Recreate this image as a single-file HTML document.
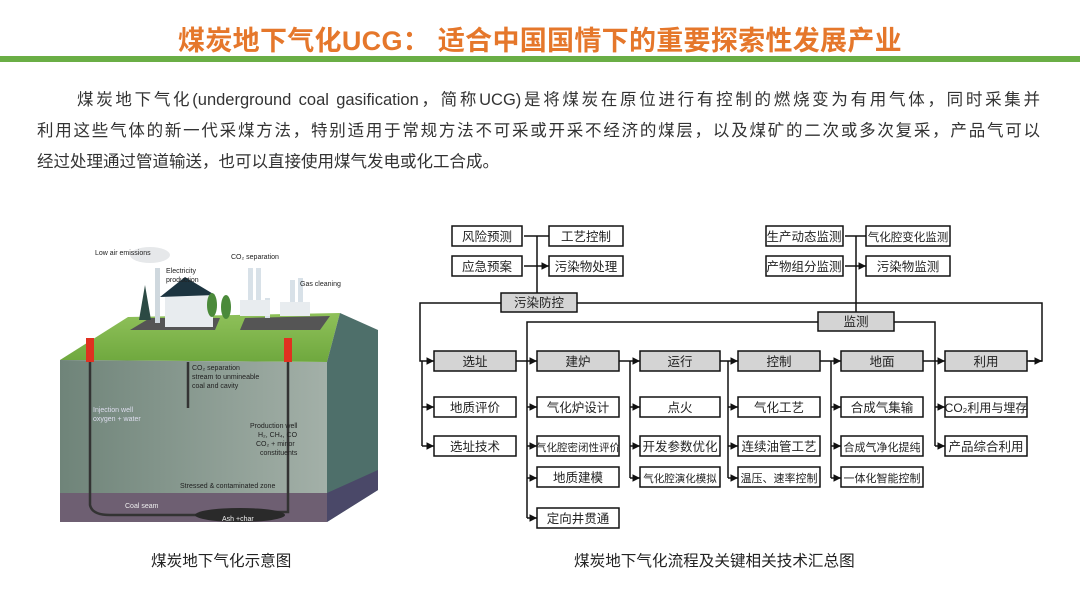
<!DOCTYPE html>
<html><head><meta charset="utf-8"><style>
body{margin:0;width:1080px;height:607px;background:#fff;position:relative;overflow:hidden;font-family:"Liberation Sans","Noto Sans CJK SC",sans-serif}
.t{position:absolute;left:0;width:1080px;top:19px;text-align:center;font-size:27px;font-weight:bold;color:#E5772B;letter-spacing:0.3px}
.g{position:absolute;left:0;top:56px;width:1080px;height:6px;background:#6AAE45}
.l{position:absolute;font-size:16.5px;color:#333;height:24px;line-height:24px;text-align:justify;text-align-last:justify;white-space:nowrap}
.cap{position:absolute;font-size:15.6px;color:#222;top:549px}
</style></head><body>
<div class="t">煤炭地下气化UCG： 适合中国国情下的重要探索性发展产业</div>
<div class="g"></div>
<div class="l" style="left:77px;top:88px;width:963px;white-space:normal">煤炭地下气化(underground coal gasification，简称UCG)是将煤炭在原位进行有控制的燃烧变为有用气体，同时采集并</div>
<div class="l" style="left:37px;top:119px;width:1003px;white-space:normal">利用这些气体的新一代采煤方法，特别适用于常规方法不可采或开采不经济的煤层，以及煤矿的二次或多次复采，产品气可以</div>
<div class="l" style="left:37px;top:150px;text-align:left;text-align-last:left">经过处理通过管道输送，也可以直接使用煤气发电或化工合成。</div>

<svg width="1080" height="607" style="position:absolute;left:0;top:0" xmlns="http://www.w3.org/2000/svg">
<defs>
<linearGradient id="fr" x1="0" y1="0" x2="1" y2="0"><stop offset="0" stop-color="#6f8479"/><stop offset="1" stop-color="#a3b0a8"/></linearGradient>
<linearGradient id="tp" x1="0" y1="0" x2="0" y2="1"><stop offset="0" stop-color="#8fc15a"/><stop offset="1" stop-color="#6fa83e"/></linearGradient>
<marker id="a" markerWidth="6" markerHeight="6" refX="5" refY="3" orient="auto"><path d="M0,0.5 L5,3 L0,5.5z" fill="#111"/></marker>
</defs>
<g>
<ellipse cx="150" cy="255" rx="20" ry="8" fill="#e6e8ea"/>
<polygon points="60,360 128,317 340,313 327,362" fill="url(#tp)"/>
<polygon points="60,360 327,362 327,522 60,522" fill="url(#fr)"/>
<polygon points="60,493 327,493 327,522 60,522" fill="#6e5f72"/>
<polygon points="327,362 340,313 378,330 378,490 327,522" fill="#4e6f6a"/>
<polygon points="327,493 378,470 378,490 327,522" fill="#4a4868"/>
<polygon points="130,330 150,318 220,318 215,330" fill="#555"/>
<polygon points="240,330 245,318 330,316 320,330" fill="#555"/>
<path d="M90,340 V505 Q92,515 110,515 H270" stroke="#333" stroke-width="2.5" fill="none"/>
<path d="M288,340 V512 H240" stroke="#333" stroke-width="2.5" fill="none"/>
<ellipse cx="240" cy="515" rx="45" ry="7" fill="#2a2a2a"/>
<path d="M188,362 V408" stroke="#333" stroke-width="2.5"/>
<rect x="86" y="338" width="8" height="24" fill="#e03020"/>
<rect x="284" y="338" width="8" height="24" fill="#e03020"/>
<rect x="165" y="295" width="48" height="32" fill="#e8ecef"/>
<polygon points="160,297 185,277 215,295" fill="#1c3440"/>
<rect x="155" y="268" width="5" height="55" fill="#cfd8de"/>
<polygon points="139,320 145,285 151,320" fill="#2c4a44"/>
<rect x="248" y="268" width="5" height="48" fill="#d8e1e8"/>
<rect x="256" y="268" width="5" height="48" fill="#d8e1e8"/>
<rect x="265" y="298" width="5" height="20" fill="#d8e1e8"/>
<rect x="290" y="280" width="5" height="36" fill="#d8e1e8"/>
<rect x="298" y="278" width="5" height="38" fill="#d8e1e8"/>
<rect x="240" y="300" width="30" height="16" fill="#e8ecef"/>
<rect x="280" y="302" width="30" height="14" fill="#e8ecef"/>
<ellipse cx="212" cy="305" rx="5" ry="12" fill="#4b8a3a"/><ellipse cx="226" cy="307" rx="5" ry="12" fill="#4b8a3a"/>
<g font-family="Liberation Sans" font-size="7" fill="#222">
<text x="95" y="255">Low air emissions</text><text x="166" y="273">Electricity</text><text x="166" y="282">production</text>
<text x="231" y="259">CO₂ separation</text><text x="300" y="286">Gas cleaning</text>
<text x="192" y="370">CO₂ separation</text><text x="192" y="379">stream to unmineable</text><text x="192" y="388">coal and cavity</text>
<text x="250" y="428">Production well</text><text x="258" y="437">H₂, CH₄, CO</text><text x="256" y="446">CO₂ + minor</text><text x="260" y="455">constituents</text>
<text x="180" y="488">Stressed &amp; contaminated zone</text>
<text x="93" y="412" fill="#dde">Injection well</text><text x="93" y="421" fill="#dde">oxygen + water</text>
<text x="125" y="508" fill="#eee">Coal seam</text><text x="222" y="521" fill="#eee">Ash +char</text>
</g>
</g>
<g stroke="#111" stroke-width="1.5" fill="none">
<path d="M537,236 V293 M537,236 H524 M537,236 H549 M537,266 H524 M537,266 H549" marker-end="url(#a)"/>
<path d="M856,236 V312 M856,236 H845 M856,236 H866 M856,266 H845 M856,266 H866" marker-end="url(#a)"/>
<path d="M501,303 H420 V361 H434" marker-end="url(#a)"/>
<path d="M577,303 H1042 V361 H1029" />
<path d="M818,322 H527 V361 H537" marker-end="url(#a)"/>
<path d="M894,322 H935 V361 H945" marker-end="url(#a)"/>
<path d="M516,361 H527"/>
<path d="M619,361 H640" marker-end="url(#a)"/>
<path d="M720,361 H738" marker-end="url(#a)"/>
<path d="M820,361 H841" marker-end="url(#a)"/>
<path d="M923,361 H935"/>
<path d="M1027,361 H1042" marker-end="url(#a)"/>
<path d="M422,361 V446"/><path d="M422,407 H434" marker-end="url(#a)"/><path d="M422,446 H434" marker-end="url(#a)"/>
<path d="M527,361 V518"/><path d="M527,407 H537" marker-end="url(#a)"/><path d="M527,446 H537" marker-end="url(#a)"/><path d="M527,478 H537" marker-end="url(#a)"/><path d="M527,518 H537" marker-end="url(#a)"/>
<path d="M630,361 V478"/><path d="M630,407 H640" marker-end="url(#a)"/><path d="M630,446 H640" marker-end="url(#a)"/><path d="M630,478 H640" marker-end="url(#a)"/>
<path d="M728,361 V478"/><path d="M728,407 H738" marker-end="url(#a)"/><path d="M728,446 H738" marker-end="url(#a)"/><path d="M728,478 H738" marker-end="url(#a)"/>
<path d="M831,361 V478"/><path d="M831,407 H841" marker-end="url(#a)"/><path d="M831,446 H841" marker-end="url(#a)"/><path d="M831,478 H841" marker-end="url(#a)"/>
<path d="M935,361 V446"/><path d="M935,407 H945" marker-end="url(#a)"/><path d="M935,446 H945" marker-end="url(#a)"/>
</g>
<g stroke="#111" stroke-width="1.5" fill="#fff">
<rect x="452" y="226" width="70" height="20"/><rect x="549" y="226" width="74" height="20"/>
<rect x="452" y="256" width="70" height="20"/><rect x="549" y="256" width="74" height="20"/>
<rect x="766" y="226" width="77" height="20"/><rect x="866" y="226" width="84" height="20"/>
<rect x="766" y="256" width="77" height="20"/><rect x="866" y="256" width="84" height="20"/>
<g fill="#d4d4d4">
<rect x="501" y="293" width="76" height="19"/><rect x="818" y="312" width="76" height="19"/>
<rect x="434" y="351" width="82" height="20"/><rect x="537" y="351" width="82" height="20"/><rect x="640" y="351" width="80" height="20"/>
<rect x="738" y="351" width="82" height="20"/><rect x="841" y="351" width="82" height="20"/><rect x="945" y="351" width="82" height="20"/>
</g>
<rect x="434" y="397" width="82" height="20"/><rect x="434" y="436" width="82" height="20"/>
<rect x="537" y="397" width="82" height="20"/><rect x="537" y="436" width="82" height="20"/><rect x="537" y="467" width="82" height="20"/><rect x="537" y="508" width="82" height="20"/>
<rect x="640" y="397" width="80" height="20"/><rect x="640" y="436" width="80" height="20"/><rect x="640" y="467" width="80" height="20"/>
<rect x="738" y="397" width="82" height="20"/><rect x="738" y="436" width="82" height="20"/><rect x="738" y="467" width="82" height="20"/>
<rect x="841" y="397" width="82" height="20"/><rect x="841" y="436" width="82" height="20"/><rect x="841" y="467" width="82" height="20"/>
<rect x="945" y="397" width="82" height="20"/><rect x="945" y="436" width="82" height="20"/>
</g>
<g font-family="Liberation Sans, Noto Sans CJK SC, sans-serif" font-size="12.5" fill="#222" text-anchor="middle">
<text x="487" y="241">风险预测</text><text x="586" y="241">工艺控制</text><text x="487" y="271">应急预案</text><text x="586" y="271">污染物处理</text>
<text x="804" y="241">生产动态监测</text><text x="908" y="241" font-size="11.5">气化腔变化监测</text><text x="804" y="271">产物组分监测</text><text x="908" y="271">污染物监测</text>
<text x="539" y="307">污染防控</text><text x="856" y="326">监测</text>
<text x="475" y="366">选址</text><text x="578" y="366">建炉</text><text x="680" y="366">运行</text><text x="779" y="366">控制</text><text x="882" y="366">地面</text><text x="986" y="366">利用</text>
<text x="475" y="412">地质评价</text><text x="475" y="451">选址技术</text>
<text x="578" y="412">气化炉设计</text><text x="578" y="451" font-size="10.5">气化腔密闭性评价</text><text x="578" y="482">地质建模</text><text x="578" y="523">定向井贯通</text>
<text x="680" y="412">点火</text><text x="680" y="451">开发参数优化</text><text x="680" y="482" font-size="10.5">气化腔演化模拟</text>
<text x="779" y="412">气化工艺</text><text x="779" y="451">连续油管工艺</text><text x="779" y="482" font-size="11">温压、速率控制</text>
<text x="882" y="412">合成气集输</text><text x="882" y="451" font-size="11">合成气净化提纯</text><text x="882" y="482" font-size="11">一体化智能控制</text>
<text x="986" y="412" font-size="12">CO₂利用与埋存</text><text x="986" y="451">产品综合利用</text>
</g>
</svg>
<div class="cap" style="left:151px">煤炭地下气化示意图</div>
<div class="cap" style="left:574px">煤炭地下气化流程及关键相关技术汇总图</div>
</body></html>
